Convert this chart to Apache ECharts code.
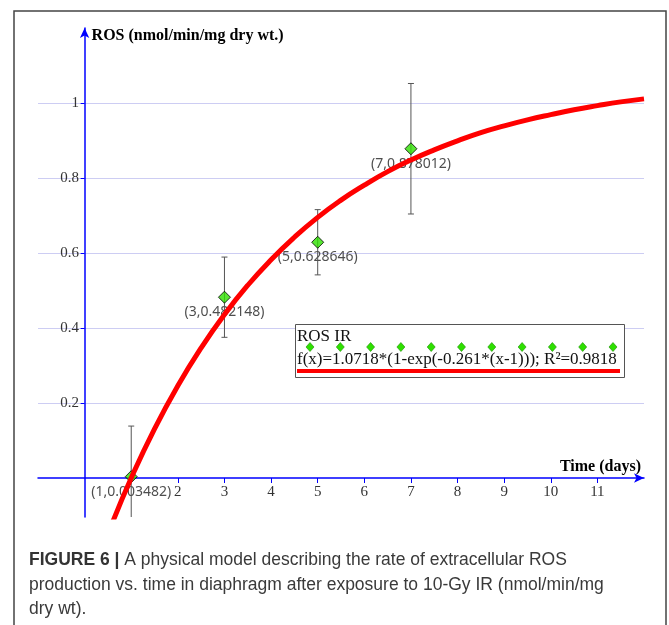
<!DOCTYPE html>
<html><head><meta charset="utf-8">
<script src="https://cdn.jsdelivr.net/npm/echarts@6/dist/echarts.min.js"></script>
<style>html,body{margin:0;padding:0;background:#fff}#c{width:669px;height:625px}</style>
</head><body><div id="c"></div>
<script>
// Measured data points (Time in days, ROS rate)
const timeDays = [1, 3, 5, 7];
const rosValues = [0.003482, 0.482148, 0.628646, 0.878012];
const rosErrors = [0.135, 0.107, 0.087, 0.174];

// Fitted curve
const fitX = [0.6, 1, 1.5, 2, 2.5, 3, 3.5, 4, 4.5, 5, 5.5, 6, 6.5, 7, 7.5, 8, 8.5, 9, 9.5, 10, 10.5, 11, 11.5, 12];
const fitY = [-0.118, 0, 0.131, 0.246, 0.347, 0.436, 0.514, 0.582, 0.642, 0.695, 0.741, 0.781, 0.817, 0.848, 0.875, 0.899, 0.921, 0.939, 0.955, 0.969, 0.982, 0.993, 1.003, 1.011];

// Axis ticks / labels
const xTickValues = [1, 2, 3, 4, 5, 6, 7, 8, 9, 10, 11];
const xLabelValues = [2, 3, 4, 5, 6, 7, 8, 9, 10, 11];
const yTickValues = [0.2, 0.4, 0.6, 0.8, 1];

const legendTitle = 'ROS IR';
const legendFormula = 'f(x)=1.0718*(1-exp(-0.261*(x-1))); R\u00B2=0.9818';
const xName = 'Time (days)';
const yName = 'ROS (nmol/min/mg dry wt.)';
const captionBold = 'FIGURE 6 |';
const captionLines = [
  ' A physical model describing the rate of extracellular ROS',
  'production vs. time in diaphragm after exposure to 10-Gy IR (nmol/min/mg',
  'dry wt).'
];

const pointData = timeDays.map((t, i) => [t, rosValues[i]]);
const errData = timeDays.map((t, i) => [t, rosValues[i], rosErrors[i]]);
const fitData = fitX.map((x, i) => [x, fitY[i]]);

const GREEN = '#2ee000';
const BLUE = '#0000ff';
const SERIF = '"Liberation Serif", "Times New Roman", serif';

const legendDiamonds = [];
for (let i = 0; i < 11; i++) {
  const cx = 310 + i * 30.3, cy = 347;
  legendDiamonds.push({
    type: 'polygon', silent: true, z: 20,
    shape: { points: [[cx, cy - 4.5], [cx + 4, cy], [cx, cy + 4.5], [cx - 4, cy]] },
    style: { fill: GREEN, stroke: '#1a8a00', lineWidth: 0.6 }
  });
}

const chart = echarts.init(document.getElementById('c'), null, { renderer: 'canvas' });
chart.setOption({
  animation: false,
  backgroundColor: '#fff',
  grid: { left: 38, right: 25, top: 28, bottom: 108, containLabel: false },
  xAxis: {
    type: 'value', min: -1, max: 12,
    name: xName, nameLocation: 'end', nameGap: -3,
    nameTextStyle: { fontFamily: SERIF, fontWeight: 'bold', fontSize: 16, color: '#000', align: 'right', verticalAlign: 'bottom', padding: [0, 0, 3, 0] },
    axisLine: { onZero: true, symbol: ['none', 'arrow'], symbolSize: [7, 10], lineStyle: { color: BLUE, width: 1.5 } },
    axisTick: { show: true, customValues: xTickValues, length: 5, lineStyle: { color: BLUE } },
    axisLabel: { customValues: xLabelValues, fontFamily: SERIF, fontSize: 15, color: '#333', margin: -32 },
    splitLine: { show: false }
  },
  yAxis: {
    type: 'value', min: -0.104, max: 1.2,
    name: yName, nameLocation: 'end', nameGap: -8,
    nameTextStyle: { fontFamily: SERIF, fontWeight: 'bold', fontSize: 16, color: '#000', align: 'left', verticalAlign: 'middle', padding: [0, 0, 0, 7] },
    axisLine: { onZero: true, symbol: ['none', 'arrow'], symbolSize: [7, 10], lineStyle: { color: BLUE, width: 1.5 } },
    axisTick: { show: true, customValues: yTickValues, length: 4, lineStyle: { color: BLUE } },
    axisLabel: { customValues: yTickValues, fontFamily: SERIF, fontSize: 15, color: '#333', margin: -41 },
    splitLine: { show: true, lineStyle: { color: '#cdcdf3', width: 1 } }
  },
  series: [
    {
      name: 'labels', type: 'scatter', z: 2, data: pointData, symbol: 'diamond', symbolSize: 12,
      itemStyle: { color: 'rgba(0,0,0,0)', borderWidth: 0 },
      label: {
        show: true, position: 'bottom', distance: 2,
        fontFamily: '"Noto Sans", "DejaVu Sans", sans-serif', fontSize: 14, color: '#222',
        formatter: p => '(' + p.value[0] + ',' + p.value[1] + ')'
      },
      silent: true
    },
    {
      name: 'errors', type: 'custom', z: 3, clip: true, data: errData,
      encode: { x: 0, y: 1 },
      renderItem: function (params, api) {
        const x = api.value(0), y = api.value(1), e = api.value(2);
        const top = api.coord([x, y + e]);
        const bot = api.coord([x, y - e]);
        const cap = 3;
        const st = { stroke: '#555', lineWidth: 1 };
        return {
          type: 'group', children: [
            { type: 'line', shape: { x1: top[0], y1: top[1], x2: bot[0], y2: bot[1] }, style: st },
            { type: 'line', shape: { x1: top[0] - cap, y1: top[1], x2: top[0] + cap, y2: top[1] }, style: st },
            { type: 'line', shape: { x1: bot[0] - cap, y1: bot[1], x2: bot[0] + cap, y2: bot[1] }, style: st }
          ]
        };
      }
    },
    {
      name: 'ROS IR', type: 'scatter', z: 4, data: pointData, symbol: 'diamond', symbolSize: [12, 12],
      itemStyle: { color: GREEN, borderColor: '#000', borderWidth: 1 }
    },
    {
      name: 'fit', type: 'line', z: 5, data: fitData, smooth: true, showSymbol: false,
      lineStyle: { color: '#ff0000', width: 5 }, clip: true
    }
  ],
  graphic: [
    { type: 'rect', silent: true, z: 100, shape: { x: 14, y: 11, width: 652, height: 700 }, style: { fill: 'none', stroke: '#444', lineWidth: 1.5 } },
    { type: 'rect', silent: true, z: 10, shape: { x: 295.5, y: 324.5, width: 329, height: 53 }, style: { fill: '#fff', stroke: '#555', lineWidth: 1 } },
    { type: 'text', silent: true, z: 20, x: 297, y: 337, style: { text: legendTitle, font: '17px ' + SERIF, fill: '#111', verticalAlign: 'middle', align: 'left' } },
    { type: 'text', silent: true, z: 20, x: 297, y: 360, style: { text: legendFormula, font: '17px ' + SERIF, fill: '#111', verticalAlign: 'middle', align: 'left' } },
    { type: 'line', silent: true, z: 20, shape: { x1: 297, y1: 371, x2: 620, y2: 371 }, style: { stroke: '#ff0000', lineWidth: 4 } },
    ...legendDiamonds,
    {
      type: 'text', silent: true, z: 20, x: 29, y: 548,
      style: {
        text: '{b|' + captionBold + '}' + captionLines.join('\n'),
        font: '17.5px "Liberation Sans", Arial, sans-serif', fill: '#3a3a3a', lineHeight: 24.5,
        rich: { b: { fontWeight: 'bold', fontSize: 17.5, fontFamily: '"Liberation Sans", Arial, sans-serif', fill: '#333', lineHeight: 24.5 } }
      }
    }
  ]
});
</script></body></html>
